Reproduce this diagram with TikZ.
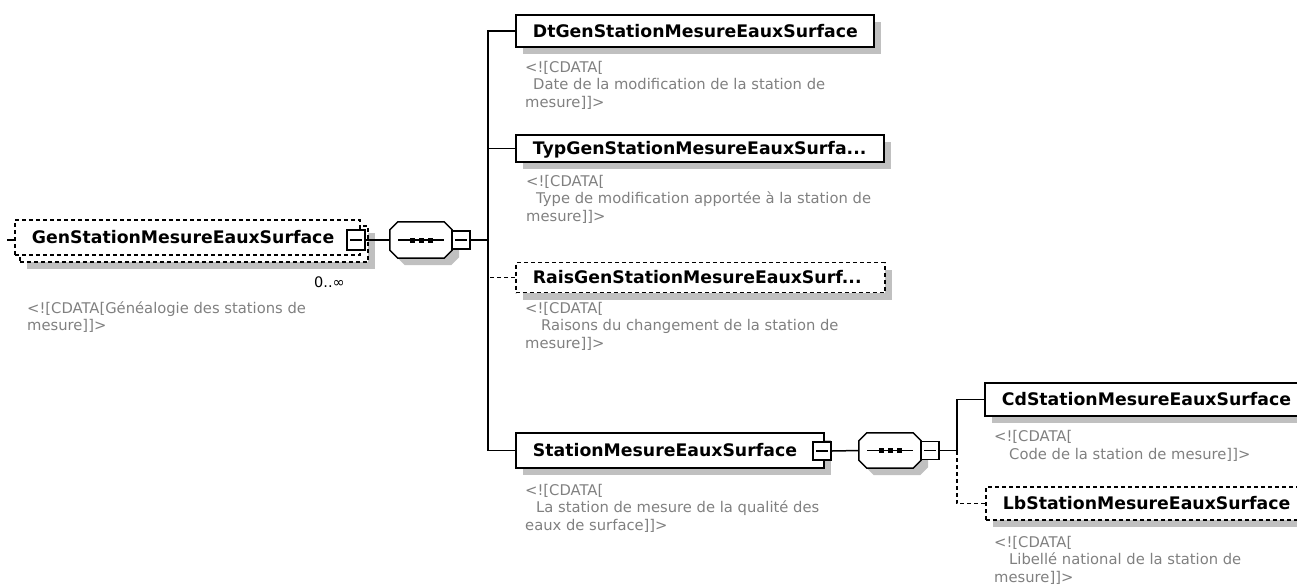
\documentclass[tikz,border=0pt]{standalone}
\usepackage{fontspec}
\setmainfont{DejaVu Sans}
\usetikzlibrary{shadows}
\definecolor{cdgray}{RGB}{128,128,128}
\definecolor{shadowgray}{RGB}{192,192,192}
\tikzset{
  boxbase/.style={draw, fill=white, line width=1.8pt, anchor=west, inner xsep=17pt, inner ysep=0pt,
    align=left, text height=12.6pt, text depth=0pt, font=\fontsize{17.3}{20}\selectfont\bfseries},
  box/.style={boxbase, drop shadow={shadow xshift=7pt, shadow yshift=-7pt, fill=shadowgray, opacity=1}},
  optbox/.style={box, dash pattern=on 4pt off 3pt},
  optboxplain/.style={boxbase, dash pattern=on 4pt off 3pt},
  minusbox/.style={draw, fill=white, line width=1.5pt, minimum width=18pt, minimum height=18pt, inner sep=0pt,
    path picture={\draw[line width=1.2pt] ([xshift=3pt]path picture bounding box.west) -- ([xshift=-3pt]path picture bounding box.east);}},
  hub/.style={minimum width=62pt, minimum height=36pt, inner sep=0pt},
  cdata/.style={anchor=base west, inner sep=0pt, align=left, text=cdgray, font=\fontsize{14.75}{17.5}\selectfont},
  conn/.style={line width=1.5pt},
  optconn/.style={conn, dash pattern=on 4pt off 3pt},
}
\newcommand\drawhub[1]{%
  \fill[shadowgray, transform canvas={shift={(7pt,-7pt)}}]
    ([xshift=8pt]#1.north west) -- ([xshift=-8pt]#1.north east) -- ([yshift=-8pt]#1.north east) --
    ([yshift=8pt]#1.south east) -- ([xshift=-8pt]#1.south east) -- ([xshift=8pt]#1.south west) --
    ([yshift=8pt]#1.south west) -- ([yshift=-8pt]#1.north west) -- cycle;
  \draw[conn, fill=white]
    ([xshift=8pt]#1.north west) -- ([xshift=-8pt]#1.north east) -- ([yshift=-8pt]#1.north east) --
    ([yshift=8pt]#1.south east) -- ([xshift=-8pt]#1.south east) -- ([xshift=8pt]#1.south west) --
    ([yshift=8pt]#1.south west) -- ([yshift=-8pt]#1.north west) -- cycle;
  \draw[conn] ([xshift=-23pt]#1.center) -- ([xshift=23pt]#1.center);
  \foreach \d in {-9,0,9} {\fill ([xshift=\d pt]#1.center) +(-2.5pt,-2.5pt) rectangle +(2.5pt,2.5pt);}
}
\begin{document}
\begin{tikzpicture}[x=1pt, y=-1pt]
\useasboundingbox (0,0) rectangle (1297,587);
\clip (0,0) rectangle (1297,587);

% root element (multiple occurrence: stacked dashed boxes)
\node[optbox, text width=314pt, minimum height=36pt] (rootback) at (19,244) {};
\node[optboxplain, text width=311pt, minimum height=35pt] (root) at (14,237.5) {GenStationMesureEauxSurface};
\node[minusbox, minimum height=20pt] (rootm) at (356,240) {};
\coordinate (rootin) at (7,240);
\node[anchor=base west, inner sep=0pt, font=\fontsize{14.5}{17}\selectfont] (occ) at (314,287) {0..∞};
\node[cdata] (rootdoc) at (27,330.5) {<![CDATA[Généalogie des stations de\\mesure]]>};

% first sequence
\node[hub] (seq1) at (421,240) {};
\drawhub{seq1}
\node[minusbox] (seq1m) at (461,240) {};
\coordinate (bus1) at (488,240);

% children
\node[box, text width=324pt, minimum height=32pt] (dt) at (515,31) {DtGenStationMesureEauxSurface};
\node[cdata] (dtdoc) at (525,107) {<![CDATA[\\\hspace*{8pt}Date de la modification de la station de\\mesure]]>};

\node[box, text width=334pt, minimum height=27pt] (typ) at (515,148.5) {TypGenStationMesureEauxSurfa...};
\node[cdata] (typdoc) at (526,221) {<![CDATA[\\\hspace*{10pt}Type de modification apportée à la station de\\mesure]]>};

\node[optbox, text width=335pt, minimum height=30pt] (rais) at (515,277.5) {RaisGenStationMesureEauxSurf...};
\node[cdata] (raisdoc) at (525,348) {<![CDATA[\\\hspace*{16pt}Raisons du changement de la station de\\mesure]]>};

\node[box, text width=274pt, minimum height=35pt] (st) at (515,450.5) {StationMesureEauxSurface};
\node[minusbox] (stm) at (822,451) {};
\node[cdata] (stdoc) at (525,530) {<![CDATA[\\\hspace*{11pt}La station de mesure de la qualité des\\eaux de surface]]>};

% second sequence
\node[hub, minimum height=35pt] (seq2) at (890,450.5) {};
\drawhub{seq2}
\node[minusbox] (seq2m) at (930,450.5) {};
\coordinate (bus2) at (957,450.5);

\node[box, text width=306pt, minimum height=33pt] (cd) at (984,399.5) {CdStationMesureEauxSurface};
\node[cdata] (cddoc) at (994,459) {<![CDATA[\\\hspace*{15pt}Code de la station de mesure]]>};

\node[optbox, text width=306pt, minimum height=33pt] (lb) at (985,503.5) {LbStationMesureEauxSurface};
\node[cdata] (lbdoc) at (994,582) {<![CDATA[\\\hspace*{15pt}Libellé national de la station de\\mesure]]>};

% connectors
\draw[conn] (rootin) -- (rootin -| root.west);
\draw[conn] (rootm.east) -- (seq1.west);
\draw[conn] (seq1m.east) -- (bus1);
\draw[conn] (dt.west) -| (bus1);
\draw[conn] (st.west) -| (bus1);
\draw[conn] (typ.west) -- (typ.west -| bus1);
\draw[optconn] (rais.west) -- (rais.west -| bus1);
\draw[conn] (stm.east) -- (seq2.west);
\draw[conn] (seq2m.east) -- (bus2);
\draw[conn] (cd.west) -| (bus2);
\draw[optconn] (lb.west) -| (bus2);
\end{tikzpicture}
\end{document}
